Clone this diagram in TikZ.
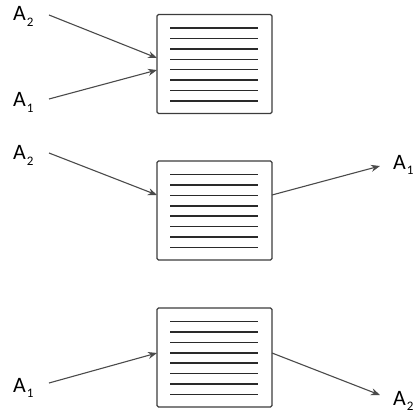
\documentclass[tikz,border=0pt]{standalone}
\usepackage{fontspec}
\setmainfont{Carlito}
\usetikzlibrary{calc,arrows.meta}
\definecolor{ink}{HTML}{2A2A2A}
\definecolor{frame}{HTML}{3C3C3C}
\newcommand{\lbl}[1]{A\kern1pt{\fontsize{13}{13}\selectfont\raisebox{-5.5pt}{#1}}}
\tikzset{
  docbox/.style={draw=frame, line width=1.4pt, rounded corners=1.5pt, fill=white,
    minimum width=115pt, minimum height=99pt, inner sep=0pt, outer sep=0pt},
  rule/.style={draw=ink, line width=1.5pt},
  flow/.style={draw=ink!85, line width=1.1pt, -{Stealth[length=9pt,width=7pt]}},
  tag/.style={anchor=base west, inner sep=0pt, font=\fontsize{22}{22}\selectfont, text=black}
}
\begin{document}
\begin{tikzpicture}[x=1pt,y=-1pt]
\useasboundingbox (0,0) rectangle (417,414);
% boxes
\node[docbox] (b1) at (214.5,64) {};
\node[docbox] (b2) at (214.5,210.5) {};
\node[docbox] (b3) at (214.5,357.5) {};
\foreach \b in {b1,b2,b3}{
  \foreach \i in {0,...,7}{
    \draw[rule] ($(\b.north west)+(13,13.5+\i*10.43)$) -- ++(88,0);
  }
}
% labels
\node[tag] (l1) at (13,21) {\lbl{2}};
\node[tag] (l2) at (13,107) {\lbl{1}};
\node[tag] (l3) at (13,160) {\lbl{2}};
\node[tag] (l4) at (393,169) {\lbl{1}};
\node[tag] (l5) at (13,392) {\lbl{1}};
\node[tag] (l6) at (393,405) {\lbl{2}};
% arrow anchor points
\coordinate (s1) at (49,15);
\coordinate (s2) at (49,99);
\coordinate (s3) at (49,153);
\coordinate (t4) at (380,166);
\coordinate (s5) at (49,383);
\coordinate (t6) at (380,395);
% connectors
\draw[flow] (s1) -- ($(b1.west)+(0,-6)$);
\draw[flow] (s2) -- ($(b1.west)+(0,6)$);
\draw[flow] (s3) -- ($(b2.west)+(0,-15.5)$);
\draw[flow] ($(b2.east)+(0,-15.5)$) -- (t4);
\draw[flow] (s5) -- ($(b3.west)+(0,-4.5)$);
\draw[flow] ($(b3.east)+(0,-4.5)$) -- (t6);
\end{tikzpicture}
\end{document}
